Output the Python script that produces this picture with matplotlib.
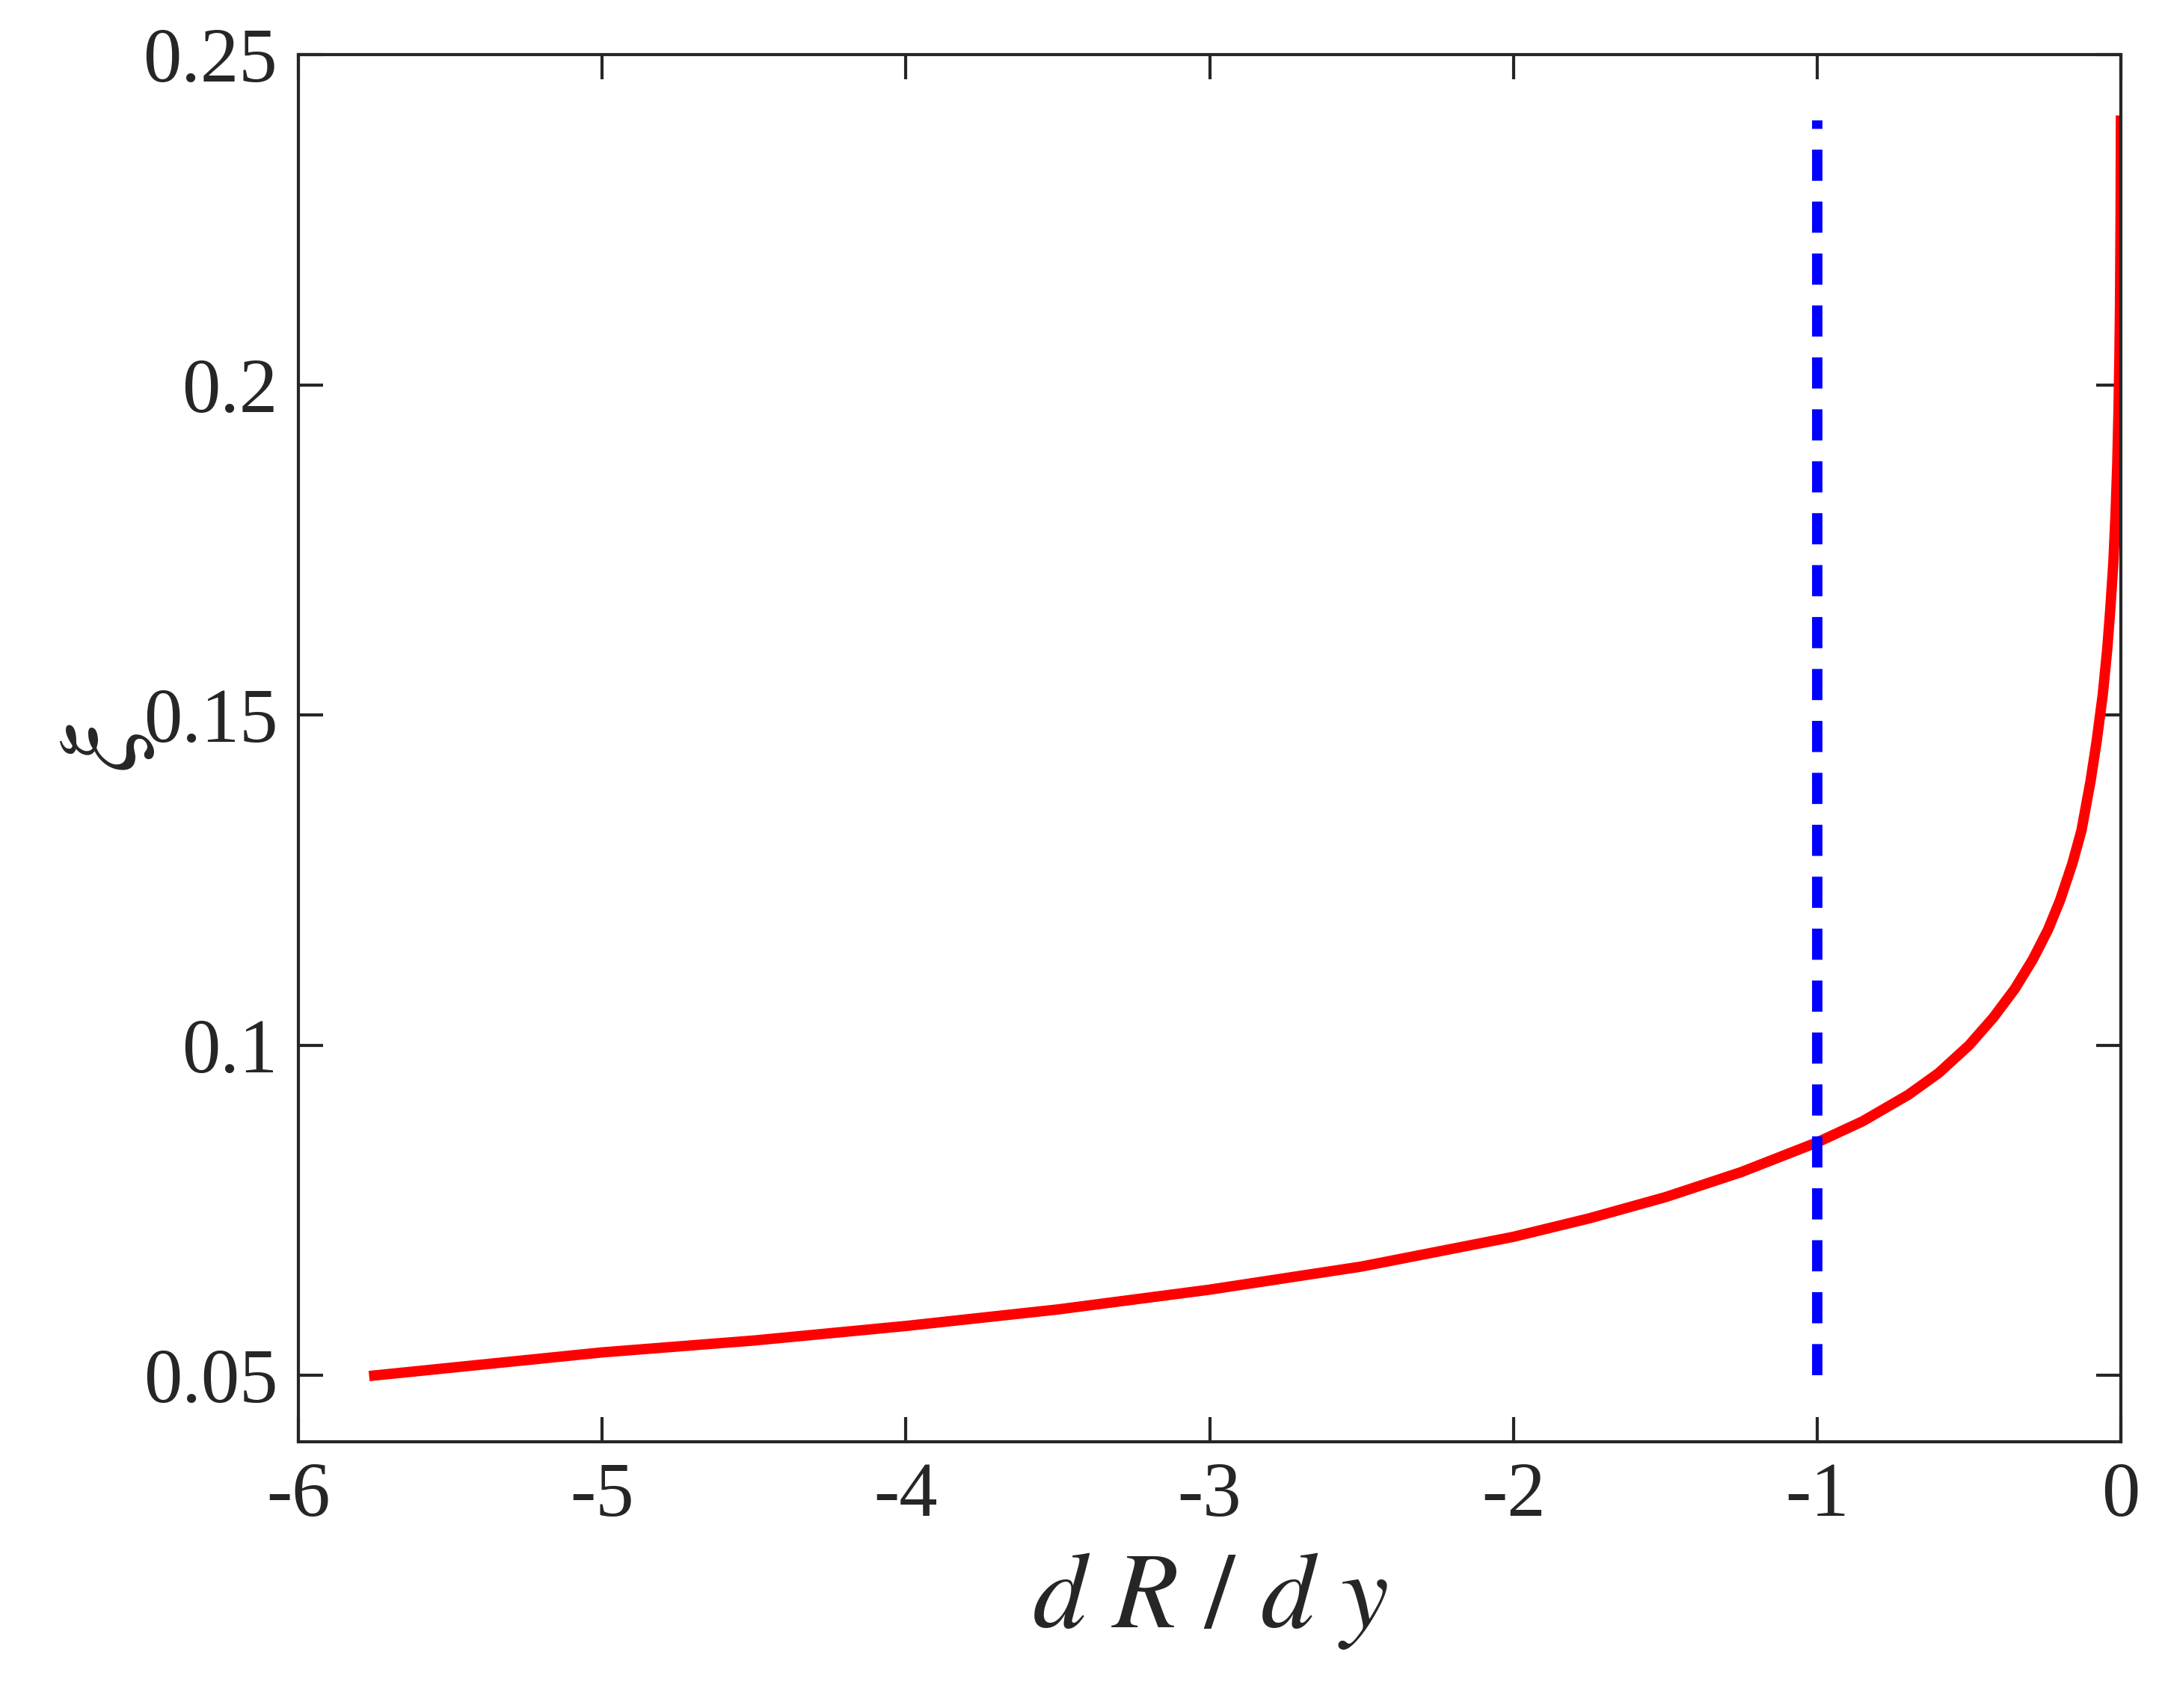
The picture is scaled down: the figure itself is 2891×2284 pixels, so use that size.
import matplotlib.pyplot as plt
plt.switch_backend('agg')

# curve
curve_x = [-5.75, -5.0, -4.5, -4.0, -3.5, -3.0, -2.5, -2.0, -1.75, -1.5, -1.25, -1.0,
           -0.85, -0.7, -0.6, -0.5, -0.42, -0.35, -0.29, -0.24, -0.2, -0.16, -0.13,
           -0.1, -0.08, -0.06, -0.045, -0.035, -0.025, -0.018, -0.012, -0.008,
           -0.005, -0.003, -0.001, 0.0]
curve_y = [0.0500, 0.0535, 0.0553, 0.0575, 0.0600, 0.0630, 0.0665, 0.0710, 0.0738,
           0.0770, 0.0808, 0.0853, 0.0885, 0.0925, 0.0958, 0.1000, 0.1042, 0.1085,
           0.1130, 0.1175, 0.1220, 0.1275, 0.1325, 0.1400, 0.1460, 0.1530, 0.1600,
           0.1660, 0.1730, 0.1800, 0.1880, 0.1960, 0.2040, 0.2120, 0.2260, 0.2400]
line_x = -1.0
line_y = [0.05, 0.24]

plt.rcParams['font.family'] = ['Liberation Serif', 'DejaVu Serif']
plt.rcParams['mathtext.fontset'] = 'stix'
text_col = '#262626'

fig = plt.figure(figsize=(28.91, 22.84), dpi=100)
ax = fig.add_axes([0.138, 0.156, 0.843, 0.812])

ax.plot(curve_x, curve_y, color='red', linewidth=10)
ax.plot([line_x, line_x], line_y, color='blue', linewidth=10, linestyle=(0, (3, 2)))

ax.set_xlim(-6, 0)
ax.set_ylim(0.04, 0.25)
ax.set_xticks([-6, -5, -4, -3, -2, -1, 0])
ax.set_xticklabels(['-6', '-5', '-4', '-3', '-2', '-1', '0'])
ax.set_yticks([0.05, 0.1, 0.15, 0.2, 0.25])
ax.set_yticklabels(['0.05', '0.1', '0.15', '0.2', '0.25'])
ax.tick_params(direction='in', length=24, width=3, labelsize=74, top=True, right=True,
               pad=20, colors=text_col)
for s in ax.spines.values():
    s.set_linewidth(3)
    s.set_color(text_col)

ax.set_xlabel(r'$d\ R\ /\ d\ y$', fontsize=104, labelpad=18, color=text_col)
ax.set_ylabel(r'$\xi$', fontsize=104, labelpad=-14, color=text_col)

fig.savefig('out.png', dpi=100)
